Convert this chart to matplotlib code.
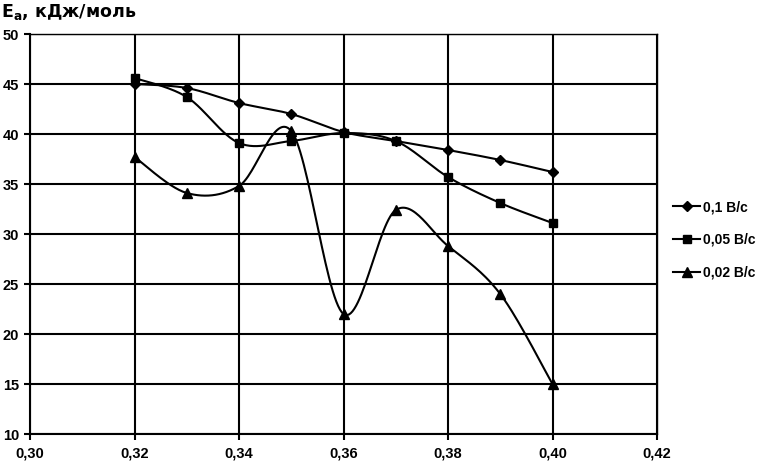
import numpy as np
import matplotlib
matplotlib.use("Agg")
import matplotlib.pyplot as plt
from matplotlib.ticker import FixedLocator, FuncFormatter

plt.rcParams['font.family'] = ['Liberation Sans', 'DejaVu Sans']
plt.rcParams['font.weight'] = 'bold'
plt.rcParams['mathtext.default'] = 'regular'

x = [0.32, 0.33, 0.34, 0.35, 0.36, 0.37, 0.38, 0.39, 0.40]
s_01 = [45.0, 44.6, 43.1, 42.0, 40.2, 39.3, 38.4, 37.4, 36.2]
s_005 = [45.6, 43.7, 39.1, 39.3, 40.1, 39.3, 35.7, 33.1, 31.1]
s_002 = [37.7, 34.1, 34.8, 40.3, 22.0, 32.4, 28.8, 24.0, 15.0]
labels = ['0,1 В/с', '0,05 В/с', '0,02 В/с']
markers = ['D', 's', '^']
msizes = [5.5, 5.5, 7]
xticks = [0.30, 0.32, 0.34, 0.36, 0.38, 0.40, 0.42]
yticks = [10, 15, 20, 25, 30, 35, 40, 45, 50]


def smooth(xs, ys, n=30):
    # Bezier smoothing like spreadsheet "smoothed lines"
    xs = np.asarray(xs, float); ys = np.asarray(ys, float)
    P = np.column_stack([xs, ys])
    out = []
    for i in range(len(P) - 1):
        p0 = P[i - 1] if i > 0 else P[i]
        p1 = P[i]; p2 = P[i + 1]
        p3 = P[i + 2] if i + 2 < len(P) else P[i + 1]
        c1 = p1 + (p2 - p0) / 6.0
        c2 = p2 - (p3 - p1) / 6.0
        t = np.linspace(0, 1, n)[:, None]
        seg = ((1 - t) ** 3) * p1 + 3 * ((1 - t) ** 2) * t * c1 + 3 * (1 - t) * t ** 2 * c2 + t ** 3 * p2
        if i > 0:
            seg = seg[1:]
        out.append(seg)
    out = np.vstack(out)
    return out[:, 0], out[:, 1]


fig = plt.figure(figsize=(7.63, 4.67), dpi=100)
ax = fig.add_axes([30 / 763, 1 - 434 / 467, 627 / 763, 400 / 467])

for ys, lab, m, ms in zip([s_01, s_005, s_002], labels, markers, msizes):
    sx, sy = smooth(x, ys)
    ax.plot(sx, sy, color='black', lw=1.5, zorder=3)
    ax.plot(x, ys, linestyle='none', marker=m, ms=ms, color='black', zorder=4)
    ax.plot([], [], color='black', lw=1.5, marker=m, ms=ms, label=lab)

ax.set_xlim(0.30, 0.42)
ax.set_ylim(10, 50)
ax.xaxis.set_major_locator(FixedLocator(xticks))
ax.yaxis.set_major_locator(FixedLocator(yticks))
ax.xaxis.set_major_formatter(FuncFormatter(lambda v, p: f"{v:.2f}".replace('.', ',')))
ax.yaxis.set_major_formatter(FuncFormatter(lambda v, p: f"{v:.0f}"))
ax.grid(True, color='black', lw=1.5)
for s in ax.spines.values():
    s.set_linewidth(1.5)
ax.spines['top'].set_linewidth(1.0)
ax.spines['right'].set_linewidth(1.0)
ax.tick_params(direction='out', length=4, width=1.5, labelsize=10.5, pad=4)
ax.tick_params(axis='x', pad=5)
for lbl in ax.get_xticklabels() + ax.get_yticklabels():
    lbl.set_fontweight('bold')

fig.text(1 / 763, 1 - 12 / 467, 'E$_{a}$, кДж/моль', fontsize=12.5, fontweight='bold',
         family=['DejaVu Sans'], va='center', ha='left')

leg = ax.legend(loc='center left', bbox_to_anchor=(1.005, 0.485), frameon=False,
                fontsize=10, handlelength=2.0, handletextpad=0.2, labelspacing=1.35)
for t in leg.get_texts():
    t.set_fontweight('bold')

fig.savefig('out.png', dpi=100)
